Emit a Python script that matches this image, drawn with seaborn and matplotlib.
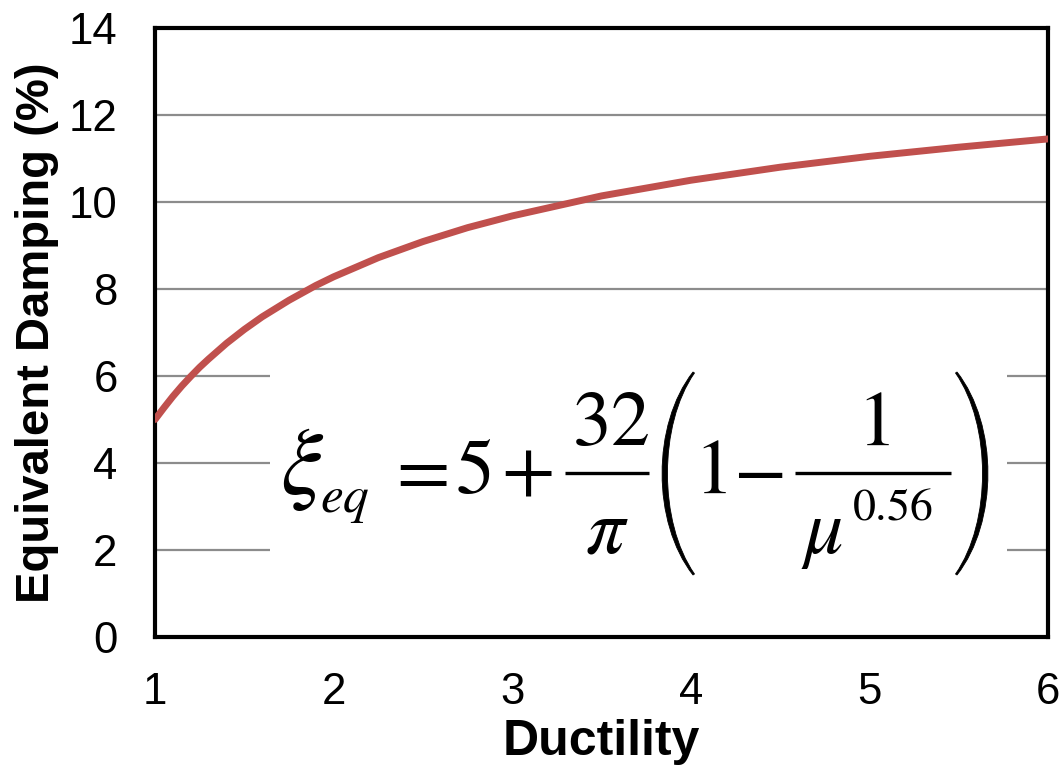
import matplotlib
matplotlib.use("Agg")
import matplotlib.pyplot as plt
import matplotlib.transforms as mtransforms
from matplotlib.path import Path
from matplotlib.patches import PathPatch, Rectangle
from matplotlib.lines import Line2D
import seaborn as sns
import pandas as pd

# Equivalent damping read along the ductility axis
ductility = [1.0, 1.05, 1.1, 1.15, 1.2, 1.25, 1.3, 1.4, 1.5, 1.6, 1.75, 1.9,
             2.0, 2.25, 2.5, 2.75, 3.0, 3.5, 4.0, 4.5, 5.0, 5.5, 6.0]
damping = [5.00, 5.27, 5.53, 5.77, 5.99, 6.20, 6.39, 6.75, 7.07, 7.36, 7.74,
           8.08, 8.28, 8.72, 9.09, 9.41, 9.68, 10.14, 10.50, 10.80, 11.05,
           11.26, 11.45]

x_ticks = [1, 2, 3, 4, 5, 6]
y_ticks = [0, 2, 4, 6, 8, 10, 12, 14]

sns.set_theme(style="white")
plt.rcParams["font.family"] = ["Liberation Sans", "DejaVu Sans"]
plt.rcParams["mathtext.fontset"] = "stix"

df = pd.DataFrame({"Ductility": ductility, "Damping": damping})

W, H = 1060, 774
fig = plt.figure(figsize=(W / 100, H / 100), dpi=100)
ax = fig.add_axes([155 / W, 1 - 637 / H, 893 / W, 609 / H])

sns.lineplot(data=df, x="Ductility", y="Damping", ax=ax,
             color="#C0504D", linewidth=5.0, zorder=3)

ax.set_xlim(1, 6)
ax.set_ylim(0, 14)
ax.set_xticks(x_ticks)
ax.set_yticks(y_ticks)
ax.set_xticklabels([str(v) for v in x_ticks])
ax.set_yticklabels([str(v) for v in y_ticks])

ax.yaxis.grid(True, color="#8c8c8c", linewidth=1.6, zorder=0)
ax.xaxis.grid(False)
ax.set_axisbelow(True)

for side in ["left", "bottom", "top", "right"]:
    ax.spines[side].set_visible(True)
    ax.spines[side].set_color("black")
    ax.spines[side].set_linewidth(3.0)

ax.tick_params(axis="both", which="major", direction="out", length=7,
               width=3.0, color="black", labelsize=31.5, labelcolor="black")
ax.tick_params(axis="y", pad=20)
ax.tick_params(axis="x", pad=18)

ax.set_xlabel("Ductility", fontsize=36, fontweight="bold", color="black")
ax.set_ylabel("Equivalent Damping (%)", fontsize=34, fontweight="bold",
              color="black")
ax.xaxis.set_label_coords(0.5, -0.135)
ax.yaxis.set_label_coords(-0.1075, 0.5)

# ---- equation panel, laid out in figure pixels (origin top-left) ----
pix = mtransforms.Affine2D().scale(1 / W, -1 / H).translate(0, 1) + fig.transFigure

fig.add_artist(Rectangle((270, 330), 737, 272, transform=pix,
                         facecolor="white", edgecolor="none", zorder=2))

FS = 56
def put(s, x, y, size=FS, ha="center"):
    fig.text(x, y, s, transform=pix, ha=ha, va="baseline", fontsize=size,
             color="black", zorder=5)

def bar(x0, x1, y):
    fig.add_artist(Line2D([x0, x1], [y, y], transform=pix, color="black",
                          linewidth=2.4, solid_capstyle="butt", zorder=5))

def paren(x_tip, x_mid, top, bottom, thick):
    # crescent-shaped bracket; x_mid < x_tip gives "(", otherwise ")"
    s = 1 if x_mid < x_tip else -1
    h = bottom - top
    c_out = x_mid - s * 0.33 * abs(x_tip - x_mid)
    c_in = c_out + s * thick * 4 / 3
    verts = [(x_tip, top), (c_out, top + 0.26 * h), (c_out, bottom - 0.26 * h),
             (x_tip, bottom), (x_tip + s * 1.5, bottom - 1),
             (c_in, bottom - 0.26 * h), (c_in, top + 0.26 * h),
             (x_tip + s * 1.5, top + 1), (x_tip, top)]
    codes = [Path.MOVETO, Path.CURVE4, Path.CURVE4, Path.CURVE4, Path.LINETO,
             Path.CURVE4, Path.CURVE4, Path.CURVE4, Path.CLOSEPOLY]
    fig.add_artist(PathPatch(Path(verts, codes), transform=pix,
                             facecolor="black", edgecolor="black",
                             linewidth=0.6, zorder=5))

put(r"$\xi$", 280, 494, size=68, ha="left")
put(r"$eq$", 320, 512, size=37, ha="left")
put(r"$=$", 416, 493)
put(r"$5$", 473, 493)
put(r"$+$", 527, 493)
put(r"$32$", 611, 445)
bar(565, 649, 473)
put(r"$\pi$", 607, 553)
paren(693, 662, 372, 575, 5)
put(r"$1$", 710, 493)
put(r"$-$", 758, 493)
put(r"$1$", 873, 445)
bar(795, 951, 473)
put(r"$\mu$", 801, 553, ha="left")
put(r"$0.56$", 852, 520, size=33, ha="left")
paren(957, 988, 372, 575, 5)

fig.savefig("out.png", dpi=100)
